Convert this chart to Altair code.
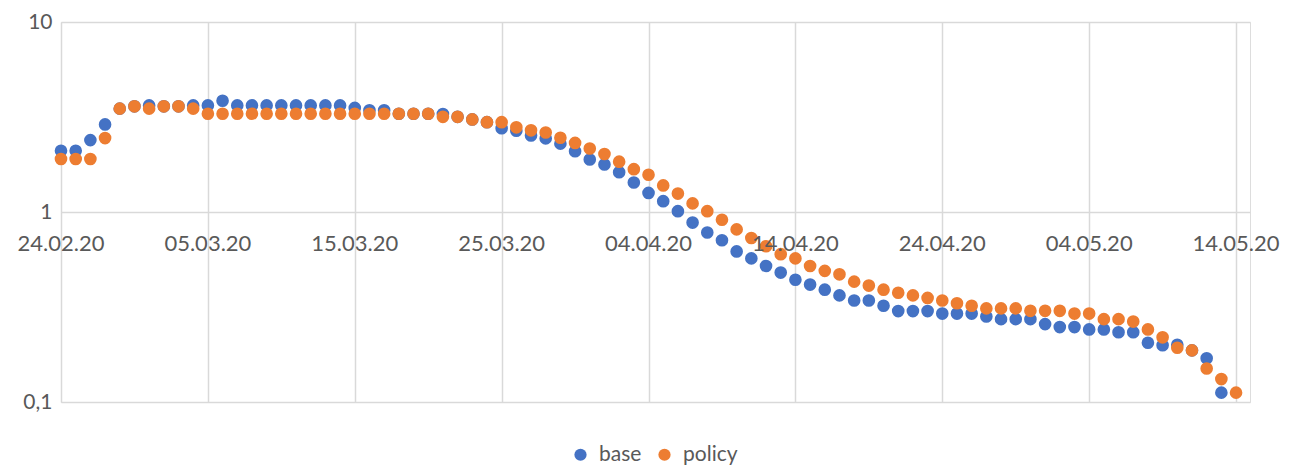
import altair as alt
import pandas as pd

# day index 0 = 24.02.20
base_values = [
    2.1, 2.1, 2.39, 2.89, 3.5, 3.6, 3.64, 3.6, 3.6, 3.64,
    3.64, 3.85, 3.64, 3.64, 3.64, 3.64, 3.64, 3.64, 3.64, 3.64,
    3.53, 3.43, 3.43, 3.29, 3.29, 3.29, 3.28, 3.17, 3.07, 2.97,
    2.76, 2.68, 2.53, 2.44, 2.29, 2.09, 1.89, 1.78, 1.62, 1.43,
    1.26, 1.14, 1.01, 0.88, 0.78, 0.71, 0.62, 0.57, 0.52, 0.48,
    0.44, 0.415, 0.39, 0.364, 0.342, 0.342, 0.321, 0.301, 0.301, 0.301,
    0.292, 0.292, 0.292, 0.282, 0.273, 0.273, 0.273, 0.257, 0.248, 0.248,
    0.241, 0.241, 0.233, 0.233, 0.205, 0.199, 0.20, 0.187, 0.170, 0.112,
]
policy_values = [
    1.9, 1.9, 1.9, 2.45, 3.5, 3.6, 3.5, 3.6, 3.6, 3.5,
    3.29, 3.29, 3.29, 3.29, 3.29, 3.29, 3.29, 3.29, 3.29, 3.29,
    3.29, 3.29, 3.29, 3.29, 3.29, 3.29, 3.17, 3.17, 3.07, 2.97,
    2.97, 2.79, 2.69, 2.62, 2.46, 2.31, 2.16, 2.02, 1.84, 1.68,
    1.57, 1.38, 1.25, 1.11, 1.01, 0.91, 0.81, 0.73, 0.66, 0.60,
    0.57, 0.52, 0.49, 0.47, 0.43, 0.41, 0.39, 0.376, 0.364, 0.353,
    0.342, 0.331, 0.321, 0.311, 0.311, 0.311, 0.302, 0.302, 0.302, 0.292,
    0.292, 0.273, 0.273, 0.265, 0.241, 0.219, 0.193, 0.187, 0.150, 0.132,
    0.112,
]
series_names = ["base", "policy"]
series_colors = ["#4472C4", "#ED7D31"]

x_tick_days = [0, 10, 20, 30, 40, 50, 60, 70, 80]
x_tick_labels = ["24.02.20", "05.03.20", "15.03.20", "25.03.20", "04.04.20",
                 "14.04.20", "24.04.20", "04.05.20", "14.05.20"]
y_tick_values = [0.1, 1, 10]
y_tick_labels = ["0,1", "1", "10"]

rows = []
for i, v in enumerate(base_values):
    rows.append({"day": i, "value": v, "series": "base"})
for i, v in enumerate(policy_values):
    rows.append({"day": i, "value": v, "series": "policy"})
df = pd.DataFrame(rows)

ticks_df = pd.DataFrame({"day": x_tick_days, "label": x_tick_labels,
                         "value": [1] * len(x_tick_days)})

FONT = "Lato"
TXT = "#595959"
GRID = "#D9D9D9"

y_label_expr = " : ".join(
    f"datum.value < {v * 1.5} ? '{l}'" for v, l in zip(y_tick_values[:-1], y_tick_labels[:-1])
) + f" : '{y_tick_labels[-1]}'"

x_enc = alt.X("day:Q",
              scale=alt.Scale(domain=[0, 80.95], nice=False, zero=False),
              axis=alt.Axis(values=x_tick_days, labels=False, ticks=False, domain=False,
                            grid=True, gridColor=GRID, gridWidth=1.5, title=None))
y_enc = alt.Y("value:Q",
              scale=alt.Scale(type="log", domain=[0.1, 10], nice=False),
              axis=alt.Axis(values=y_tick_values, labelExpr=y_label_expr, ticks=False,
                            domain=False, grid=True, gridColor=GRID, gridWidth=1.5,
                            labelFontSize=21, labelColor=TXT, labelFont=FONT,
                            labelPadding=9, title=None))

points = alt.Chart(df).mark_circle(size=160, opacity=1).encode(
    x=x_enc,
    y=y_enc,
    color=alt.Color("series:N",
                    scale=alt.Scale(domain=series_names, range=series_colors),
                    legend=alt.Legend(orient="none", legendX=509, legendY=422,
                                      direction="horizontal", title=None,
                                      symbolType="circle", symbolSize=150,
                                      symbolStrokeWidth=0, labelFontSize=21,
                                      labelColor=TXT, labelFont=FONT,
                                      labelOffset=8, columnPadding=12, padding=0)),
)

labels = alt.Chart(ticks_df).mark_text(dy=32, fontSize=22, color=TXT, font=FONT,
                                       baseline="middle", align="center").encode(
    x=alt.X("day:Q"),
    y=alt.Y("value:Q"),
    text="label:N",
)

chart = alt.layer(points, labels).properties(
    width=1189, height=380,
    padding={"left": 53, "top": 14, "right": 30, "bottom": 64},
    autosize=alt.AutoSizeParams(type="none"),
).configure_view(stroke=None).configure(background="white")

chart.save("out.html", embed_options={"renderer": "svg", "actions": False})
